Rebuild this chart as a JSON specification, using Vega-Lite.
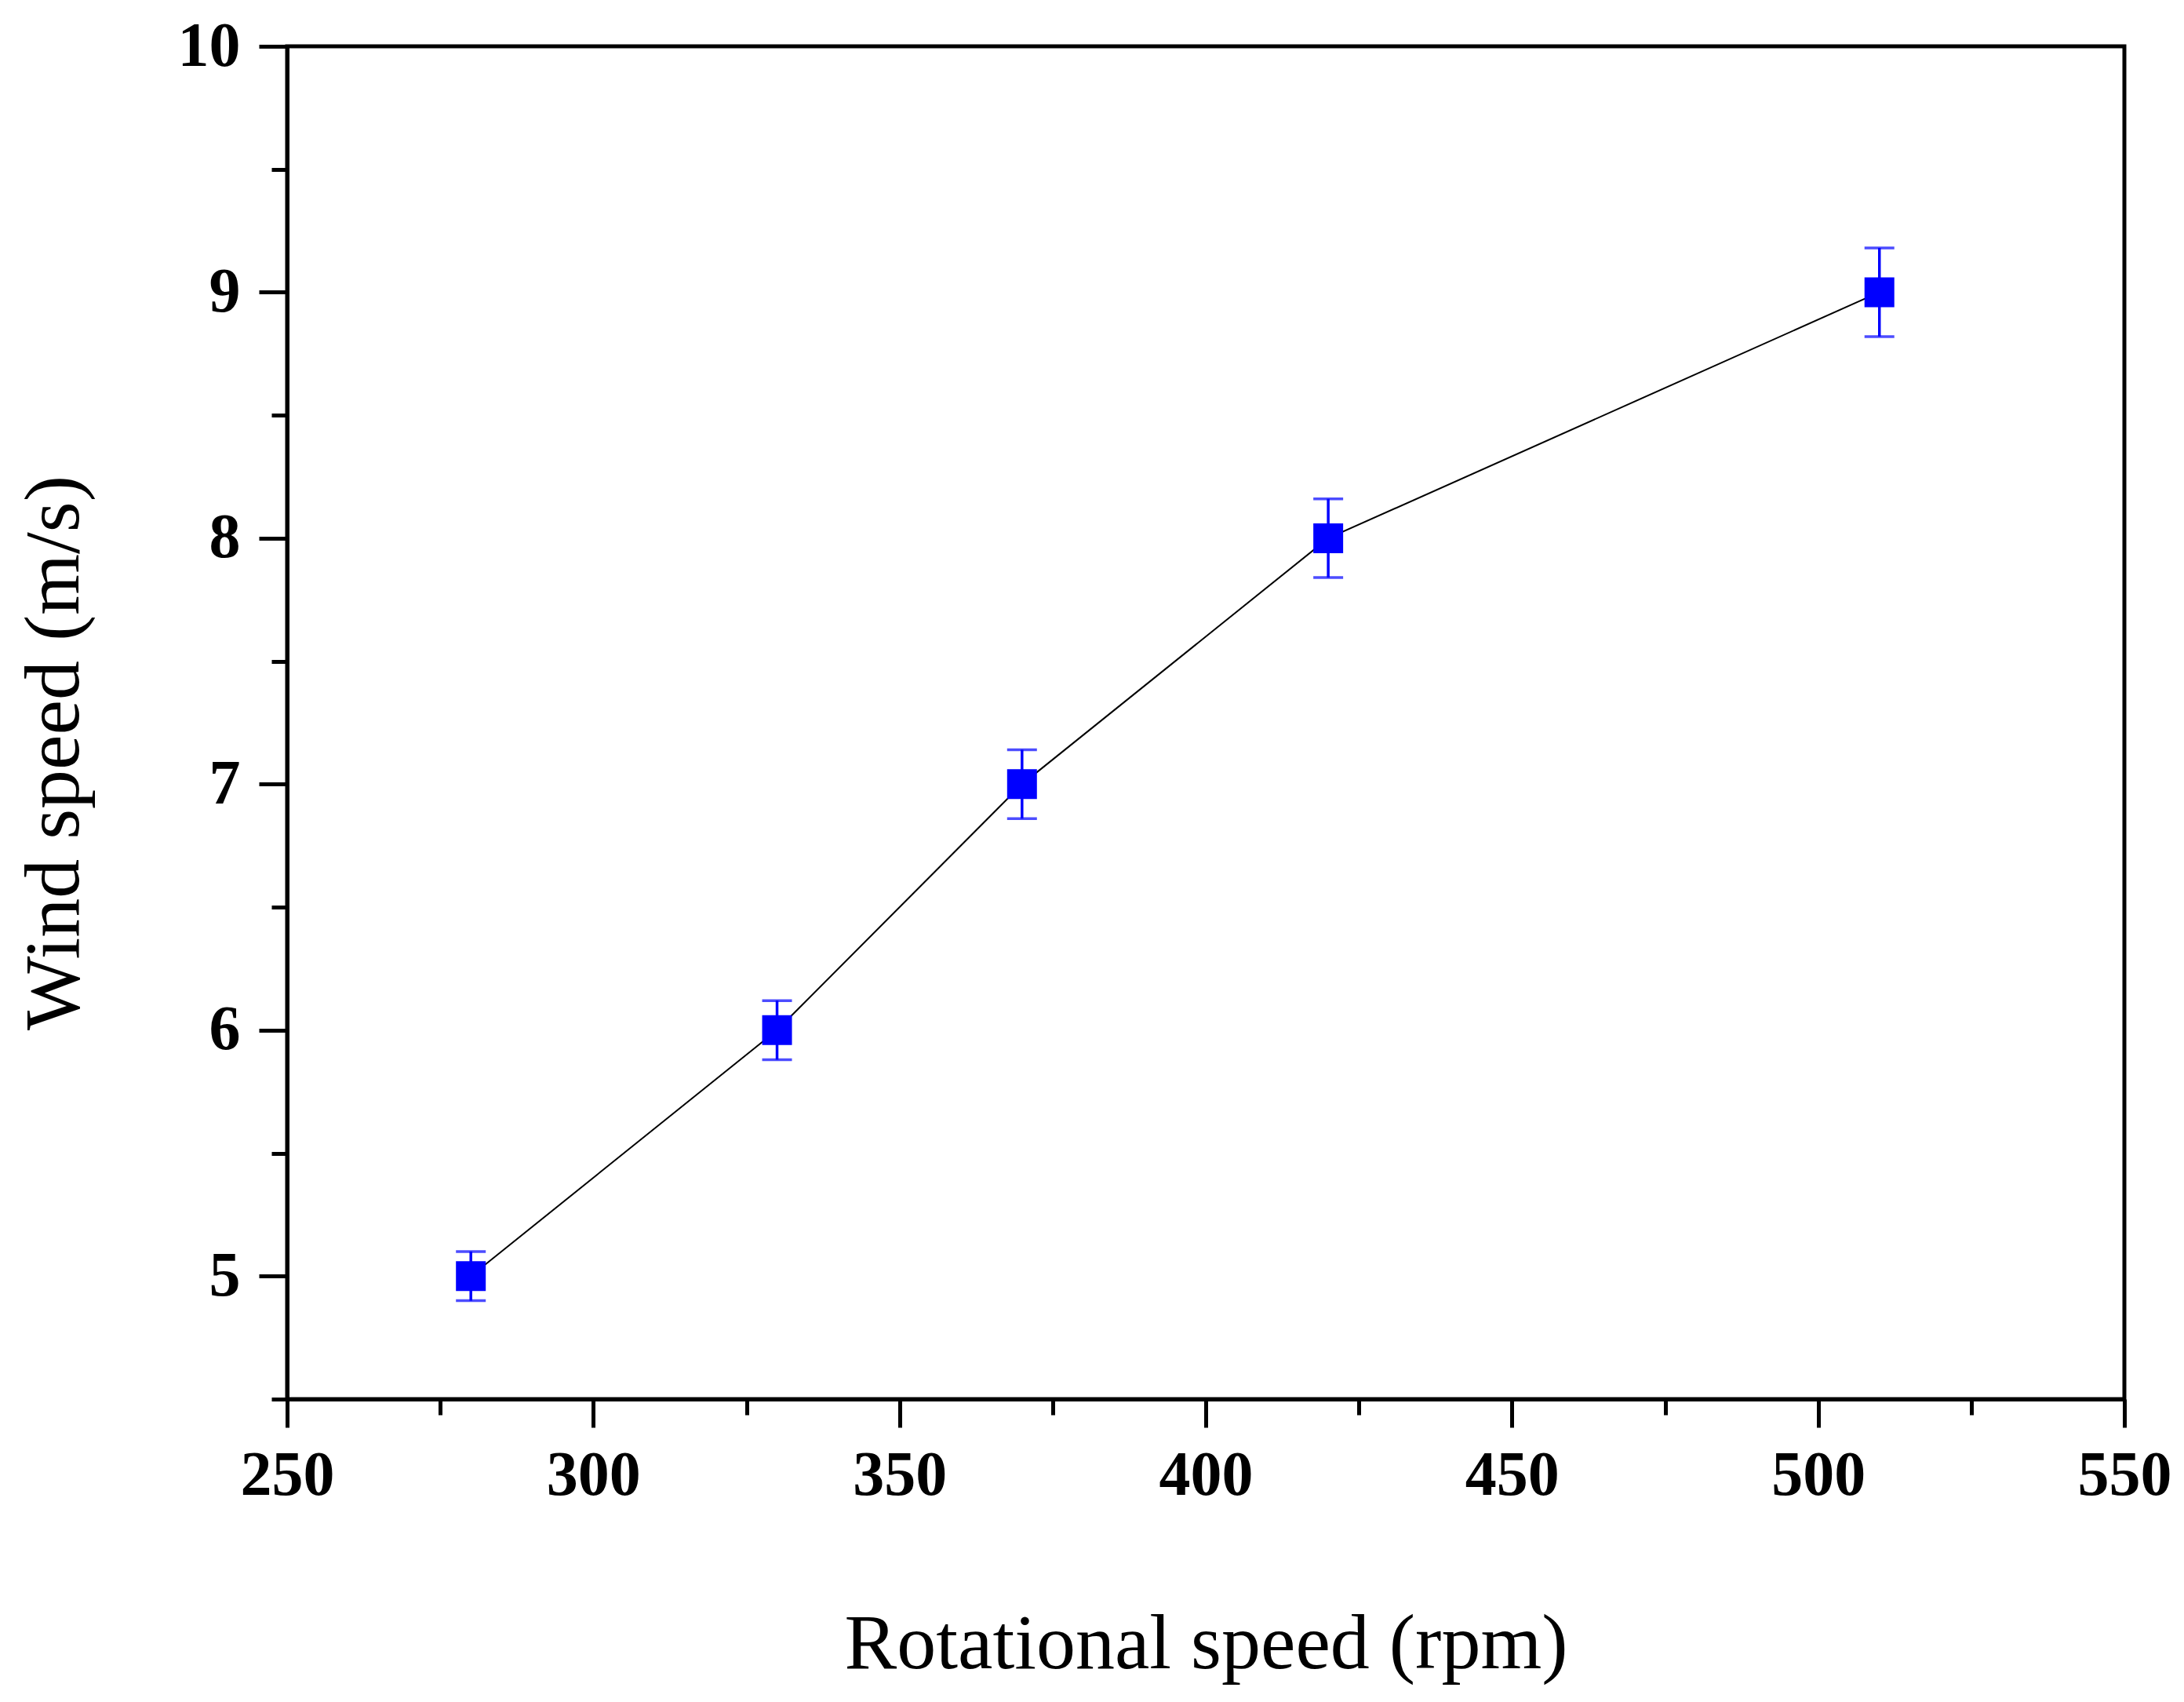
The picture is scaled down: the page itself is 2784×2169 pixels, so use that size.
{
  "$schema": "https://vega.github.io/schema/vega-lite/v6.json",
  "width": 2342,
  "height": 1724,
  "autosize": "none",
  "padding": {"left": 366, "top": 59, "right": 76, "bottom": 386},
  "background": "white",
  "config": {
    "view": {"stroke": "black", "strokeWidth": 5},
    "axis": {
      "grid": false,
      "domainColor": "black",
      "domainWidth": 5,
      "tickColor": "black",
      "tickWidth": 5,
      "labelColor": "black",
      "labelFont": "Liberation Serif",
      "labelFontWeight": "bold",
      "labelFontSize": 80,
      "titleColor": "black",
      "titleFont": "Liberation Serif",
      "titleFontWeight": "normal",
      "titleFontSize": 100
    }
  },
  "data": {
    "values": [
      {"rpm": 280, "speed": 5, "err": 0.1},
      {"rpm": 330, "speed": 6, "err": 0.12},
      {"rpm": 370, "speed": 7, "err": 0.14},
      {"rpm": 420, "speed": 8, "err": 0.16},
      {"rpm": 510, "speed": 9, "err": 0.18}
    ]
  },
  "encoding": {
    "x": {
      "field": "rpm",
      "type": "quantitative",
      "title": "Rotational speed (rpm)",
      "scale": {"domain": [250, 550], "nice": false, "zero": false},
      "axis": {
        "values": [250, 275, 300, 325, 350, 375, 400, 425, 450, 475, 500, 525, 550],
        "format": "d",
        "tickSize": {"condition": {"test": "datum.value % 50 !== 0", "value": 20}, "value": 36},
        "labelExpr": "datum.value % 50 === 0 ? datum.label : ''",
        "labelPadding": 22,
        "labelFlush": false,
        "titlePadding": 126
      }
    },
    "y": {
      "field": "speed",
      "type": "quantitative",
      "title": "Wind speed (m/s)",
      "scale": {"domain": [4.5, 10], "nice": false, "zero": false},
      "axis": {
        "values": [4.5, 5, 5.5, 6, 6.5, 7, 7.5, 8, 8.5, 9, 9.5, 10],
        "format": "~g",
        "tickSize": {"condition": {"test": "datum.value % 1 !== 0", "value": 20}, "value": 36},
        "labelExpr": "datum.value % 1 === 0 ? datum.label : ''",
        "labelPadding": 24,
        "labelFlush": false,
        "titlePadding": 106,
        "titleY": 900
      }
    }
  },
  "layer": [
    {
      "mark": {"type": "line", "color": "black", "strokeWidth": 2}
    },
    {
      "mark": {
        "type": "errorbar",
        "color": "#0000ff",
        "ticks": {"size": 38, "thickness": 3.5, "color": "#0000ff"},
        "rule": {"strokeWidth": 3.5, "color": "#0000ff"}
      },
      "encoding": {
        "yError": {"field": "err"}
      }
    },
    {
      "mark": {"type": "square", "color": "#0000ff", "filled": true, "opacity": 1, "size": 1444}
    }
  ]
}
